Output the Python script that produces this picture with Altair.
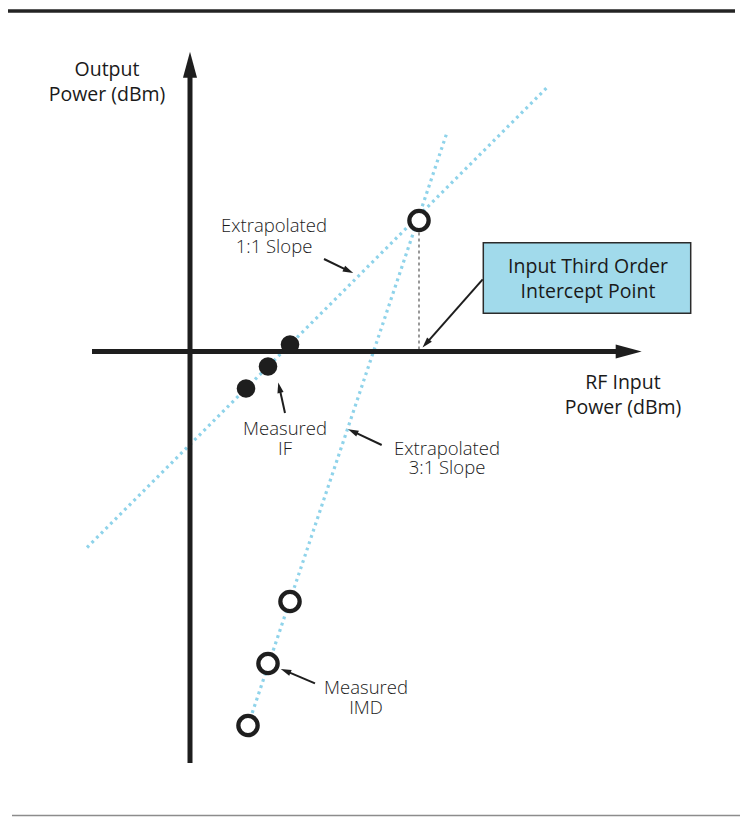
import math
import altair as alt
import pandas as pd

# ---- values (RF input power / output power, dBm) ----
if_pin = [5.6, 7.8, 10.0]
if_pout = [-3.7, -1.5, 0.7]
imd_pin = [5.8, 7.8, 10.0]
imd_pout = [-37.4, -31.2, -25.0]
iip3_pin = [22.9]
iip3_pout = [13.1]

slope11_x = [-10.3, 35.7]
slope11_y = [-19.6, 26.4]
slope31_x = [5.8, 25.7]
slope31_y = [-37.4, 21.9]

# annotation labels (multi-line), position of the first line, line height in px
label_text = ["Extrapolated\n1:1 Slope", "Measured\nIF",
              "Extrapolated\n3:1 Slope", "Measured\nIMD"]
label_x = [8.4, 9.5, 25.7, 17.6]
label_y = [12.55, -7.75, -9.7, -33.65]
label_lh = [20.5, 19.5, 19.5, 19.5]

axis_text = ["Output\nPower (dBm)", "RF Input\nPower (dBm)"]
axis_tx = [-8.3, 43.3]
axis_ty = [28.15, -3.15]

box_text = ["Input Third Order\nIntercept Point"]
box_tx = [39.8]
box_ty = [8.45]
box_x = [29.33]
box_x2 = [50.07]
box_y = [10.88]
box_y2 = [3.82]

# annotation arrows: start -> tip
arr_x0 = [13.4, 29.27, 9.5, 19.17, 12.5]
arr_y0 = [9.25, 7.22, -6.15, -9.35, -33.18]
arr_x1 = [16.3, 23.27, 8.83, 15.83, 9.1]
arr_y1 = [7.85, 0.42, -3.12, -7.78, -31.75]

# axes extents
vaxis_bottom = -41.15
vaxis_tip = 29.98
haxis_left = -9.8
haxis_tip = 45.17

X_DOM = [-18.2, 55.2]
Y_DOM = [-46.65, 34.35]
W, H = 734, 810

FONT = "Open Sans"
INK = "#1e1e1e"
BLUE = "#8fd3ea"

xs = alt.Scale(domain=X_DOM, nice=False, zero=False)
ys = alt.Scale(domain=Y_DOM, nice=False, zero=False)


def X(f, t="Q"):
    return alt.X(f"{f}:{t}", scale=xs, axis=None)


def Y(f, t="Q"):
    return alt.Y(f"{f}:{t}", scale=ys, axis=None)


def head(x0, y0, x1, y1, half):
    dx, dy = x1 - x0, y1 - y0
    L = math.hypot(dx, dy)
    ux, uy = dx / L, dy / L
    return x1 - ux * half, y1 - uy * half, math.degrees(math.atan2(dx, dy)) % 360


# ---- dotted slope lines ----
lines_df = pd.DataFrame({
    "x": slope11_x + slope31_x,
    "y": slope11_y + slope31_y,
    "g": ["a", "a", "b", "b"],
})
dotted = alt.Chart(lines_df).mark_line(
    color=BLUE, strokeWidth=3.2, strokeDash=[2.8, 3.8], strokeCap="butt"
).encode(x=X("x"), y=Y("y"), detail="g:N")

# dashed drop line from intercept
drop_df = pd.DataFrame({"x": iip3_pin, "y": iip3_pout, "y2": [0.0]})
drop = alt.Chart(drop_df).mark_rule(
    color="#555555", strokeWidth=1.2, strokeDash=[3, 3]
).encode(x=X("x"), y=Y("y"), y2="y2:Q")

# ---- axes ----
vhead_len = 2.6  # data units (10 px per unit)
vax_df = pd.DataFrame({"x": [0.0], "y": [vaxis_bottom], "y2": [vaxis_tip - vhead_len / 2]})
hax_df = pd.DataFrame({"y": [0.0], "x": [haxis_left], "x2": [haxis_tip - vhead_len / 2]})
vax = alt.Chart(vax_df).mark_rule(color=INK, strokeWidth=5).encode(x=X("x"), y=Y("y"), y2="y2:Q")
hax = alt.Chart(hax_df).mark_rule(color=INK, strokeWidth=5).encode(y=Y("y"), x=X("x"), x2="x2:Q")

big_heads = pd.DataFrame({
    "x": [0.0, haxis_tip - vhead_len / 2],
    "y": [vaxis_tip - vhead_len / 2, 0.0],
    "ang": [0.0, 90.0],
})
bigh = alt.Chart(big_heads).mark_point(
    shape="M0,-1L0.54,1L-0.54,1Z", filled=True, size=676, color=INK, opacity=1, strokeWidth=0
).encode(x=X("x"), y=Y("y"), angle=alt.Angle("ang:Q", scale=None))

# top and bottom page rules
frame_df = pd.DataFrame({"x": [-18.2, -17.8], "x2": [54.5, 55.0], "y": [34.05, -46.4],
                         "c": ["top", "bot"]})
top_rule = alt.Chart(frame_df[frame_df.c == "top"]).mark_rule(color="#242424", strokeWidth=3.5).encode(
    x=X("x"), x2="x2:Q", y=Y("y"))
bot_rule = alt.Chart(frame_df[frame_df.c == "bot"]).mark_rule(color="#8c8c8c", strokeWidth=1.5).encode(
    x=X("x"), x2="x2:Q", y=Y("y"))

# ---- annotation arrows ----
rows = []
for x0, y0, x1, y1 in zip(arr_x0, arr_y0, arr_x1, arr_y1):
    cx, cy, ang = head(x0, y0, x1, y1, 0.5)
    rows.append({"x0": x0, "y0": y0, "hx": cx, "hy": cy, "ang": ang})
arr_df = pd.DataFrame(rows)
arr_lines = alt.Chart(arr_df).mark_rule(color=INK, strokeWidth=2).encode(
    x=X("x0"), y=Y("y0"), x2="hx:Q", y2="hy:Q")
arr_heads = alt.Chart(arr_df).mark_point(
    shape="M0,-1L0.6,1L-0.6,1Z", filled=True, size=110, color=INK, opacity=1, strokeWidth=0
).encode(x=X("hx"), y=Y("hy"), angle=alt.Angle("ang:Q", scale=None))

# ---- measured points ----
if_df = pd.DataFrame({"x": if_pin, "y": if_pout})
imd_df = pd.DataFrame({"x": imd_pin + iip3_pin, "y": imd_pout + iip3_pout})
if_pts = alt.Chart(if_df).mark_point(
    shape="circle", filled=True, size=345, color=INK, opacity=1, strokeWidth=0
).encode(x=X("x"), y=Y("y"))
imd_pts = alt.Chart(imd_df).mark_point(
    shape="circle", filled=True, size=372, fill="white", stroke=INK, strokeWidth=4.3, opacity=1
).encode(x=X("x"), y=Y("y"))

# ---- callout box ----
box_df = pd.DataFrame({"x": box_x, "x2": box_x2, "y": box_y, "y2": box_y2})
box = alt.Chart(box_df).mark_rect(fill="#a1daeb", stroke="#2b2b2b", strokeWidth=1.5).encode(
    x=X("x"), x2="x2:Q", y=Y("y"), y2="y2:Q")
box_lbl = alt.Chart(pd.DataFrame({"t": box_text, "x": box_tx, "y": box_ty})).mark_text(
    font=FONT, fontSize=19.5, fontWeight=500, color="#1a1a1a", align="center", baseline="middle",
    lineBreak="\n", lineHeight=25
).encode(x=X("x"), y=Y("y"), text="t:N")

# ---- text ----
ann_layers = []
for t, x, y, lh in zip(label_text, label_x, label_y, label_lh):
    ann_layers.append(
        alt.Chart(pd.DataFrame({"t": [t], "x": [x], "y": [y]})).mark_text(
            font=FONT, fontSize=18.5, fontWeight=300, color="#1a1a1a", align="center",
            baseline="middle", lineBreak="\n", lineHeight=lh
        ).encode(x=X("x"), y=Y("y"), text="t:N")
    )
ax_lbl = alt.Chart(pd.DataFrame({"t": axis_text, "x": axis_tx, "y": axis_ty})).mark_text(
    font=FONT, fontSize=19.5, fontWeight=500, color="#1a1a1a", align="center", baseline="middle",
    lineBreak="\n", lineHeight=25
).encode(x=X("x"), y=Y("y"), text="t:N")

chart = alt.layer(
    top_rule, bot_rule, dotted, drop, vax, hax, bigh, arr_lines, arr_heads,
    if_pts, imd_pts, box, box_lbl, *ann_layers, ax_lbl
).properties(
    width=W, height=H, padding=0,
    autosize=alt.AutoSizeParams(type="none"),
    background="white",
).configure_view(stroke=None)

chart.save("out.html", embed_options={"renderer": "svg", "actions": False})
